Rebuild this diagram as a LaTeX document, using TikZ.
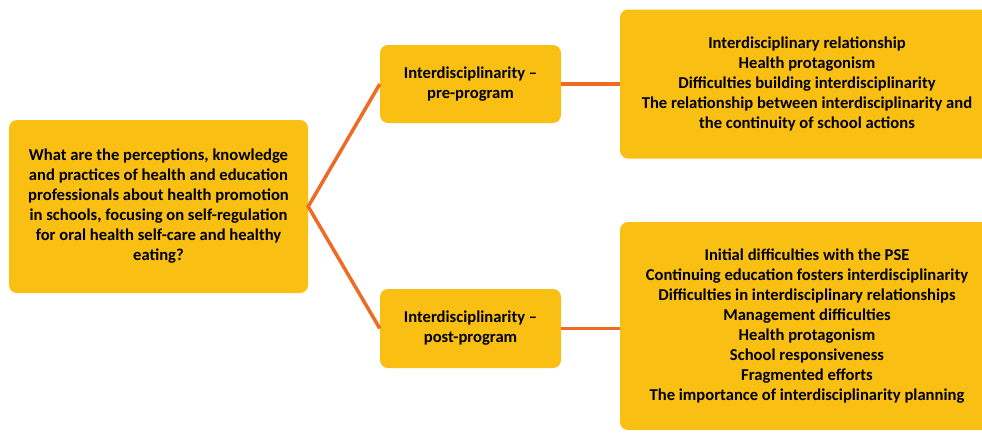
\documentclass[tikz,border=0pt]{standalone}
\usepackage{fontspec}
\setmainfont{Carlito}
\usepackage{xcolor}
\definecolor{boxfill}{HTML}{F9C013}
\definecolor{linkorange}{HTML}{EE6A25}

\tikzset{
    box/.style={fill=boxfill, rounded corners=8pt, align=center, inner sep=2pt,
        font=\fontsize{16.6}{20}\selectfont\bfseries},
    link/.style={draw=linkorange, line width=3.5pt}
}

\begin{document}
\begin{tikzpicture}[x=1pt, y=-1pt]
        % Frame
        \clip (0,0) rectangle (982,432);

        % Question
        \node[box, minimum width=299pt, minimum height=173pt] (question) at (158.5,206.5)
            {What are the perceptions, knowledge\\and practices of health and education\\professionals about health promotion\\in schools, focusing on self-regulation\\for oral health self-care and healthy\\eating?};

        % Phases
        \node[box, minimum width=181pt, minimum height=78pt] (pre) at (470.5,84)
            {Interdisciplinarity --\\pre-program};
        \node[box, minimum width=181pt, minimum height=79pt] (post) at (470.5,328.5)
            {Interdisciplinarity --\\post-program};

        % Themes
        \node[box, minimum width=374pt, minimum height=149pt] (prethemes) at (807,84)
            {Interdisciplinary relationship\\Health protagonism\\Difficulties building interdisciplinarity\\The relationship between interdisciplinarity and\\the continuity of school actions};
        \node[box, minimum width=374pt, minimum height=208pt] (postthemes) at (807,326)
            {Initial difficulties with the PSE\\Continuing education fosters interdisciplinarity\\Difficulties in interdisciplinary relationships\\Management difficulties\\Health protagonism\\School responsiveness\\Fragmented efforts\\The importance of interdisciplinarity planning};

        % Links
        \draw[link] (pre.west) -- (question.east) -- (post.west);
        \draw[link] (pre.east) -- (pre.east -| prethemes.west);
        \draw[link] (post.east) -- (post.east -| postthemes.west);
    \end{tikzpicture}
\end{document}
